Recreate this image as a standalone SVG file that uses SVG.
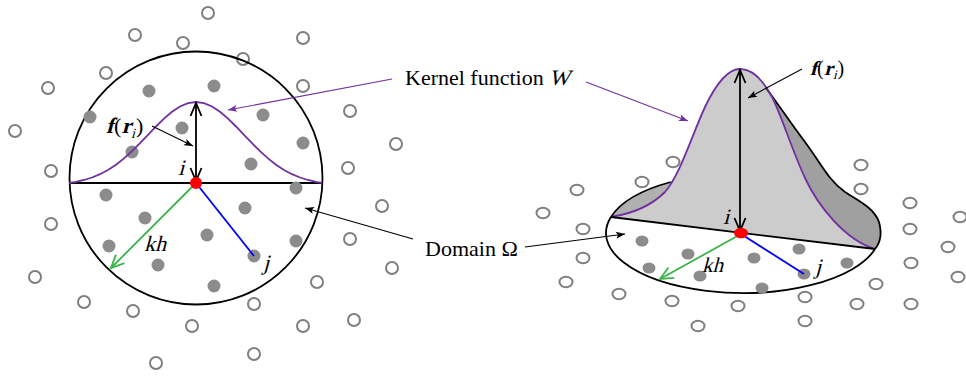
<svg xmlns="http://www.w3.org/2000/svg" width="966" height="379" viewBox="0 0 966 379">
<style>
.open{fill:#fff;stroke:#7f7f7f;stroke-width:2}
.dot{fill:#8c8c8c}
.ln{stroke:#000;stroke-width:1.8;fill:none}
.pur{stroke:#7030a0;stroke-width:1.8;fill:none}
.thin{stroke:#000;stroke-width:1.1;fill:none}
.pthin{stroke:#7030a0;stroke-width:1.1;fill:none}
text{font-family:"Liberation Serif","Times New Roman",serif;font-size:22px;fill:#000}
.b{font-weight:bold}
.s20{font-size:20px}
.sub{font-size:14px}
.sub2{font-size:13px}
</style>
<defs>
<marker id="vBlack" markerUnits="userSpaceOnUse" markerWidth="14" markerHeight="14" refX="13" refY="5.5" orient="auto-start-reverse" style="overflow:visible"><path d="M0,0 L13,5.5 L0,11" fill="none" stroke="#000" stroke-width="1.8"/></marker>
<marker id="vGreen" markerUnits="userSpaceOnUse" markerWidth="14" markerHeight="14" refX="13" refY="6" orient="auto" style="overflow:visible"><path d="M0,0 L13,6 L0,12" fill="none" stroke="#3cb44a" stroke-width="1.8"/></marker>
<marker id="tBlack" markerUnits="userSpaceOnUse" markerWidth="10" markerHeight="8" refX="9" refY="3.5" orient="auto" style="overflow:visible"><path d="M0,0 L9,3.5 L0,7 L2,3.5 Z" fill="#000"/></marker>
<marker id="tPurple" markerUnits="userSpaceOnUse" markerWidth="10" markerHeight="8" refX="9" refY="3.5" orient="auto" style="overflow:visible"><path d="M0,0 L9,3.5 L0,7 L2,3.5 Z" fill="#7030a0"/></marker>
</defs>
<rect width="966" height="379" fill="#fff"/>

<g id="particles-outer">
<circle class="open" cx="208" cy="13" r="6"/><circle class="open" cx="135" cy="35" r="6"/><circle class="open" cx="183" cy="43" r="6"/><circle class="open" cx="303" cy="38" r="6"/><circle class="open" cx="243" cy="59" r="6"/><circle class="open" cx="106" cy="73" r="6"/><circle class="open" cx="48" cy="88" r="6"/><circle class="open" cx="303" cy="86" r="6"/><circle class="open" cx="15" cy="131" r="6"/><circle class="open" cx="51" cy="171" r="6"/><circle class="open" cx="350" cy="111" r="6"/><circle class="open" cx="396" cy="144" r="6"/><circle class="open" cx="348" cy="168" r="6"/><circle class="open" cx="382" cy="206" r="6"/><circle class="open" cx="350" cy="239" r="6"/><circle class="open" cx="51" cy="224" r="6"/><circle class="open" cx="35" cy="277" r="6"/><circle class="open" cx="84" cy="302" r="6"/><circle class="open" cx="133" cy="311" r="6"/><circle class="open" cx="192" cy="326" r="6"/><circle class="open" cx="254" cy="304" r="6"/><circle class="open" cx="303" cy="326" r="6"/><circle class="open" cx="317" cy="282" r="6"/><circle class="open" cx="156" cy="363" r="6"/><circle class="open" cx="254" cy="354" r="6"/><circle class="open" cx="392" cy="268" r="6"/><circle class="open" cx="354" cy="320" r="6"/>
<ellipse class="open" cx="673" cy="162" rx="6.5" ry="5.2"/><ellipse class="open" cx="642" cy="182" rx="6.5" ry="5.2"/><ellipse class="open" cx="577" cy="190" rx="6.5" ry="5.2"/><ellipse class="open" cx="543" cy="213" rx="6.5" ry="5.2"/><ellipse class="open" cx="583" cy="229" rx="6.5" ry="5.2"/><ellipse class="open" cx="583" cy="258" rx="6.5" ry="5.2"/><ellipse class="open" cx="566" cy="282" rx="6.5" ry="5.2"/><ellipse class="open" cx="619" cy="294" rx="6.5" ry="5.2"/><ellipse class="open" cx="672" cy="301" rx="6.5" ry="5.2"/><ellipse class="open" cx="738" cy="306" rx="6.5" ry="5.2"/><ellipse class="open" cx="698" cy="326" rx="6.5" ry="5.2"/><ellipse class="open" cx="805" cy="297" rx="6.5" ry="5.2"/><ellipse class="open" cx="805" cy="321" rx="6.5" ry="5.2"/><ellipse class="open" cx="857" cy="304" rx="6.5" ry="5.2"/><ellipse class="open" cx="876" cy="284" rx="6.5" ry="5.2"/><ellipse class="open" cx="911" cy="304" rx="6.5" ry="5.2"/><ellipse class="open" cx="911" cy="263" rx="6.5" ry="5.2"/><ellipse class="open" cx="910" cy="229" rx="6.5" ry="5.2"/><ellipse class="open" cx="910" cy="203" rx="6.5" ry="5.2"/><ellipse class="open" cx="861" cy="165" rx="6.5" ry="5.2"/><ellipse class="open" cx="861" cy="189" rx="6.5" ry="5.2"/><ellipse class="open" cx="948" cy="247" rx="6.5" ry="5.2"/><ellipse class="open" cx="960" cy="217" rx="6.5" ry="5.2"/><ellipse class="open" cx="958" cy="277" rx="6.5" ry="5.2"/>
</g>

<g id="left-domain">
<circle cx="196" cy="178" r="126.5" fill="#fff" class="ln"/>
<line class="ln" x1="69.5" y1="183" x2="322.5" y2="183"/>
<g class="dot">
<circle cx="149" cy="91" r="6.5"/><circle cx="214" cy="86" r="6.5"/><circle cx="90" cy="117" r="6.5"/><circle cx="263" cy="115" r="6.5"/><circle cx="182" cy="128" r="6.5"/><circle cx="303" cy="143" r="6.5"/><circle cx="132" cy="152" r="6.5"/><circle cx="251" cy="164" r="6.5"/><circle cx="296" cy="188" r="6.5"/><circle cx="106" cy="195" r="6.5"/><circle cx="145" cy="218" r="6.5"/><circle cx="245" cy="208" r="6.5"/><circle cx="207" cy="235" r="6.5"/><circle cx="109" cy="246" r="6.5"/><circle cx="158" cy="265" r="6.5"/><circle cx="254" cy="256" r="6.5"/><circle cx="296" cy="241" r="6.5"/><circle cx="214" cy="286" r="6.5"/>
</g>
<polyline class="pur" points="69,183 76,181.9 84,180 92,177.5 100,174.2 108,170 116,164.7 124,158.4 132,151.2 140,143.2 148,134.9 156,126.5 164,118.6 172,111.8 180,106.5 188,103.2 196,102 204,103.2 212,106.5 220,111.8 228,118.6 236,126.5 244,134.9 252,143.2 260,151.2 268,158.4 276,164.7 284,170 292,174.2 300,177.5 308,180 316,181.9 322,183"/>
<line x1="196" y1="103" x2="196" y2="181" class="ln" marker-start="url(#vBlack)" marker-end="url(#vBlack)"/>
<line x1="196" y1="183" x2="111" y2="268" stroke="#3cb44a" stroke-width="1.8" marker-end="url(#vGreen)"/>
<line x1="196" y1="183" x2="254" y2="256" stroke="#0000ff" stroke-width="1.8"/>
<circle cx="196" cy="183" r="6" fill="#ff0000"/>
<g id="label-f-left">
<text class="b" transform="translate(106,133) skewX(-15)">f</text>
<text x="114" y="133">(</text>
<text class="b" transform="translate(121.5,133) skewX(-15)">r</text>
<text class="sub" transform="translate(131,138) skewX(-15)">i</text>
<text x="136" y="133">)</text>
</g>
<text transform="translate(178,175) skewX(-15)">i</text>
<text transform="translate(144,251) skewX(-15)">kh</text>
<text transform="translate(263,270) skewX(-15)">j</text>
</g>

<g id="right-kernel">
<ellipse cx="743" cy="233" rx="137" ry="60" fill="#fff" stroke="none"/>
<path d="M610.96,217 A137,60 0 0 1 670.8,182 L665,192 C650,207 630,214 610.96,217 Z" fill="#b0b0b0"/>
<path d="M766,88 C778,104 790,122 805,142 C820,162 828,180 845,192 C860,202 874,208 879,222 C882,233 880,243 875.04,249 C845,240 818,206 805,178 C792,150 781,114 772,97 Z" fill="#a0a0a0"/>
<path d="M610.96,217 C630,214 650,207 665,192 C680,175 692,135 705,107 C715,86 727,69 740,69 C753,69 763,80 772,97 C781,114 792,150 805,178 C818,206 845,240 875.04,249 Z" fill="#cccccc"/>
<path class="ln" d="M670.8,182 A137,60 0 0 0 610.96,217 A137,60 0 1 0 875.04,249"/>
<path class="ln" d="M766,88 C778,104 790,122 805,142 C820,162 828,180 845,192 C860,202 874,208 879,222 C882,233 880,243 875.04,249"/>
<path class="pur" d="M610.96,217 C630,214 650,207 665,192 C680,175 692,135 705,107 C715,86 727,69 740,69 C753,69 763,80 772,97 C781,114 792,150 805,178 C818,206 845,240 875.04,249"/>
<line class="ln" x1="610.96" y1="217" x2="875.04" y2="249"/>
<g class="dot">
<ellipse cx="642" cy="241" rx="6.5" ry="5.5"/><ellipse cx="688" cy="254" rx="6.5" ry="5.5"/><ellipse cx="754" cy="258" rx="6.5" ry="5.5"/><ellipse cx="799" cy="249" rx="6.5" ry="5.5"/><ellipse cx="847" cy="263" rx="6.5" ry="5.5"/><ellipse cx="649" cy="268" rx="6.5" ry="5.5"/><ellipse cx="700" cy="276" rx="6.5" ry="5.5"/><ellipse cx="762" cy="288" rx="6.5" ry="5.5"/><ellipse cx="804" cy="274" rx="6.5" ry="5.5"/>
</g>
<line x1="740" y1="70" x2="740" y2="231" class="ln" marker-start="url(#vBlack)" marker-end="url(#vBlack)"/>
<line x1="741" y1="234" x2="660" y2="279" stroke="#3cb44a" stroke-width="1.8" marker-end="url(#vGreen)"/>
<line x1="741" y1="234" x2="804" y2="274" stroke="#0000ff" stroke-width="1.8"/>
<ellipse cx="741" cy="233" rx="7" ry="5.2" fill="#ff0000"/>
<g id="label-f-right">
<text class="b s20" transform="translate(810,75) skewX(-15)">f</text>
<text class="s20" x="817" y="75">(</text>
<text class="b s20" transform="translate(824,75) skewX(-15)">r</text>
<text class="sub2" transform="translate(833,79) skewX(-15)">i</text>
<text class="s20" x="837.5" y="75">)</text>
</g>
<text transform="translate(723,224) skewX(-15)">i</text>
<text style="font-size:21px" transform="translate(702,272) skewX(-15)">kh</text>
<text transform="translate(815,274) skewX(-15)">j</text>
</g>

<g id="label-kernel"><text x="405" y="85">Kernel function</text><text transform="translate(549,85) skewX(-15)">W</text></g>
<g id="label-domain"><text x="425" y="256">Domain Ω</text></g>

<g id="connectors">
<line class="pthin" x1="392" y1="79" x2="228" y2="110" marker-end="url(#tPurple)"/>
<line class="pthin" x1="586" y1="82" x2="688" y2="121" marker-end="url(#tPurple)"/>
<line class="thin" x1="413" y1="239" x2="305" y2="208" marker-end="url(#tBlack)"/>
<line class="thin" x1="525" y1="247" x2="625" y2="234" marker-end="url(#tBlack)"/>
<line class="thin" x1="152" y1="126" x2="193" y2="146" marker-end="url(#tBlack)"/>
<line class="thin" x1="802" y1="69" x2="748" y2="98" marker-end="url(#tBlack)"/>
</g>
</svg>
